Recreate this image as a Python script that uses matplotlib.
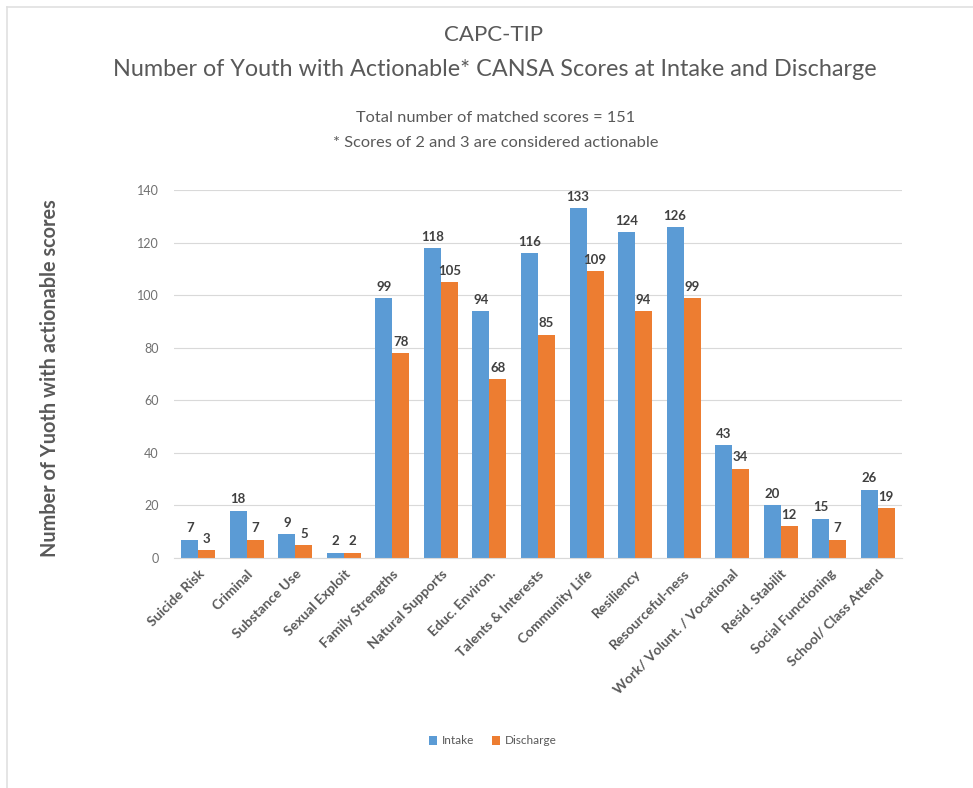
import matplotlib
matplotlib.use("Agg")
import matplotlib.pyplot as plt
import numpy as np

categories = ["Suicide Risk", "Criminal", "Substance Use", "Sexual Exploit",
              "Family Strengths", "Natural Supports", "Educ. Environ.",
              "Talents & Interests", "Community Life", "Resiliency",
              "Resourceful-ness", "Work/ Volunt. / Vocational", "Resid. Stabilit",
              "Social Functioning", "School/ Class Attend"]
intake = [7, 18, 9, 2, 99, 118, 94, 116, 133, 124, 126, 43, 20, 15, 26]
discharge = [3, 7, 5, 2, 78, 105, 68, 85, 109, 94, 99, 34, 12, 7, 19]

BLUE = "#5B9BD5"
ORANGE = "#ED7D31"
GRAY = "#595959"

plt.rcParams["font.family"] = ["Lato", "DejaVu Sans"]

fig = plt.figure(figsize=(9.73, 7.88), dpi=100)
ax = fig.add_axes([174 / 973, 1 - 558 / 788, (902 - 174) / 973, (558 - 190) / 788])

x = np.arange(len(categories))
w = 0.35
b1 = ax.bar(x - w / 2, intake, w, color=BLUE, label="Intake")
b2 = ax.bar(x + w / 2, discharge, w, color=ORANGE, label="Discharge")

for bars, vals in ((b1, intake), (b2, discharge)):
    for r, v in zip(bars, vals):
        ax.text(r.get_x() + r.get_width() / 2, v + 2, str(v), ha="center", va="bottom",
                fontsize=9.5, fontweight="bold", color="#404040")

ax.set_xlim(-0.5, len(categories) - 0.5)
ax.set_ylim(0, 140)
ax.set_yticks(range(0, 141, 20))
ax.yaxis.grid(True, color="#D9D9D9", linewidth=0.8)
ax.set_axisbelow(True)
for s in ["top", "right", "left"]:
    ax.spines[s].set_visible(False)
ax.spines["bottom"].set_color("#D9D9D9")
ax.tick_params(axis="both", length=0, labelcolor="#707070", labelsize=9)
ax.tick_params(axis="y", pad=11)
ax.tick_params(axis="x", pad=7)
ax.set_xticks(x)
ax.set_xticklabels(categories, rotation=45, ha="right", rotation_mode="anchor",
                   fontsize=10, fontweight="bold", color=GRAY)

fig.text(50 / 973, 1 - 378 / 788, "Number of Yuoth with actionable scores", rotation=90,
         ha="center", va="center", fontsize=14.3, fontweight="bold", color=GRAY)

fig.text(493 / 973, 1 - 35 / 788, "CAPC-TIP", ha="center", va="center", fontsize=16, color=GRAY)
fig.text(495 / 973, 1 - 69 / 788, "Number of Youth with Actionable* CANSA Scores at Intake and Discharge",
         ha="center", va="center", fontsize=16.8, color=GRAY)
fig.text(496 / 973, 1 - 118 / 788, "Total number of matched scores = 151", ha="center", va="center",
         fontsize=11.8, color=GRAY)
fig.text(496 / 973, 1 - 143 / 788, "* Scores of 2 and 3 are considered actionable", ha="center", va="center",
         fontsize=11.8, color=GRAY)

fig.legend(handles=[b1, b2], loc="center", bbox_to_anchor=(493 / 973, 1 - 741 / 788), ncol=2,
           frameon=False, fontsize=8.5, labelcolor=GRAY, handlelength=0.7, handleheight=0.7,
           handletextpad=0.4, columnspacing=1.5)

# faint frame on top and left
fig.add_artist(plt.Line2D([7 / 973, 1], [1 - 7 / 788, 1 - 7 / 788], color="#E0E0E0", linewidth=1.2))
fig.add_artist(plt.Line2D([7 / 973, 7 / 973], [0, 1 - 7 / 788], color="#E0E0E0", linewidth=1.2))

fig.savefig("out.png", dpi=100, facecolor="white")
